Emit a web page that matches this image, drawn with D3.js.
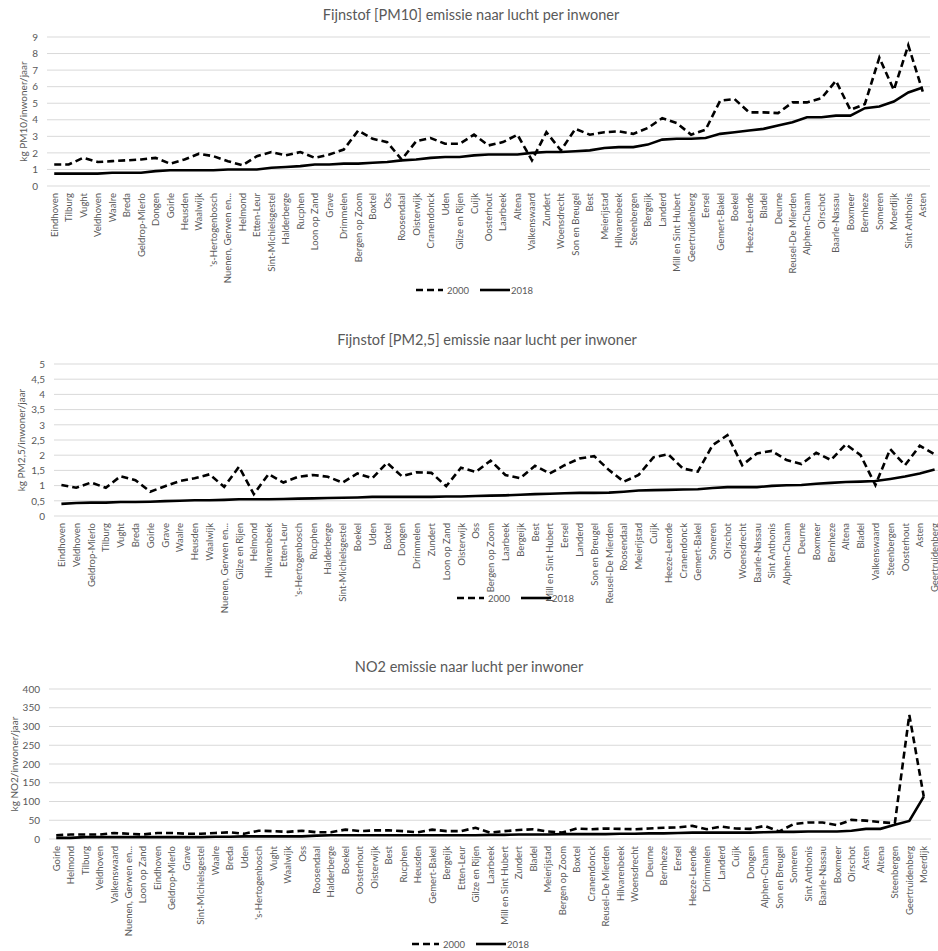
<!DOCTYPE html>
<html>
<head>
<meta charset="utf-8">
<script src="https://cdn.jsdelivr.net/npm/d3@7"></script>
<style>
  body { margin: 0; background: #fff; }
  svg { display: block; font-family: Lato, "Open Sans", sans-serif; }
</style>
</head>
<body>
<svg id="chart" width="938" height="951"></svg>
<script>
// PM10 per inwoner (kg/jaar)
var pm10Cats = ["Eindhoven","Tilburg","Vught","Veldhoven","Waalre","Breda","Geldrop-Mierlo","Dongen","Goirle","Heusden",
  "Waalwijk","'s-Hertogenbosch","Nuenen, Gerwen en...","Helmond","Etten-Leur","Sint-Michielsgestel","Halderberge","Rucphen","Loon op Zand","Grave",
  "Drimmelen","Bergen op Zoom","Boxtel","Oss","Roosendaal","Oisterwijk","Cranendonck","Uden","Gilze en Rijen","Cuijk",
  "Oosterhout","Laarbeek","Altena","Valkenswaard","Zundert","Woensdrecht","Son en Breugel","Best","Meierijstad","Hilvarenbeek",
  "Steenbergen","Bergeijk","Landerd","Mill en Sint Hubert","Geertruidenberg","Eersel","Gemert-Bakel","Boekel","Heeze-Leende","Bladel",
  "Deurne","Reusel-De Mierden","Alphen-Chaam","Oirschot","Baarle-Nassau","Boxmeer","Bernheze","Someren","Moerdijk","Sint Anthonis","Asten"];
var pm10_2000 = [1.3,1.3,1.7,1.45,1.5,1.55,1.6,1.7,1.35,1.6,
  1.95,1.8,1.5,1.25,1.8,2.05,1.85,2.05,1.7,1.9,
  2.2,3.35,2.85,2.65,1.6,2.7,2.9,2.55,2.55,3.1,
  2.45,2.65,3.1,1.55,3.25,2.15,3.45,3.1,3.25,3.3,
  3.15,3.5,4.1,3.8,3.1,3.4,5.15,5.25,4.45,4.45,
  4.4,5.05,5.05,5.3,6.35,4.6,4.95,7.75,5.8,8.5,5.7];
var pm10_2018 = [0.75,0.75,0.75,0.75,0.8,0.8,0.8,0.9,0.95,0.95,
  0.95,0.95,1.0,1.0,1.0,1.1,1.15,1.2,1.3,1.3,
  1.35,1.35,1.4,1.45,1.55,1.6,1.7,1.75,1.75,1.85,
  1.9,1.9,1.9,2.0,2.05,2.05,2.1,2.15,2.3,2.35,
  2.35,2.5,2.8,2.85,2.85,2.9,3.15,3.25,3.35,3.45,
  3.65,3.85,4.15,4.15,4.25,4.25,4.7,4.8,5.1,5.65,5.95];
var pm10Ticks = [0,1,2,3,4,5,6,7,8,9];

// PM2,5 per inwoner (kg/jaar)
var pm25Cats = ["Eindhoven","Veldhoven","Geldrop-Mierlo","Tilburg","Vught","Breda","Goirle","Grave","Waalre","Heusden",
  "Waalwijk","Nuenen, Gerwen en...","Gilze en Rijen","Helmond","Hilvarenbeek","Etten-Leur","'s-Hertogenbosch","Rucphen","Halderberge","Sint-Michielsgestel",
  "Boekel","Uden","Boxtel","Dongen","Drimmelen","Zundert","Loon op Zand","Oisterwijk","Oss","Bergen op Zoom",
  "Laarbeek","Bergeijk","Best","Mill en Sint Hubert","Eersel","Landerd","Son en Breugel","Reusel-De Mierden","Roosendaal","Meierijstad",
  "Cuijk","Heeze-Leende","Cranendonck","Gemert-Bakel","Someren","Oirschot","Woensdrecht","Baarle-Nassau","Sint Anthonis","Alphen-Chaam",
  "Deurne","Boxmeer","Bernheze","Altena","Bladel","Valkenswaard","Steenbergen","Oosterhout","Asten","Geertruidenberg"];
var pm25_2000 = [1.02,0.93,1.1,0.93,1.31,1.18,0.8,0.98,1.15,1.24,
  1.37,0.96,1.62,0.72,1.38,1.1,1.29,1.35,1.29,1.1,
  1.4,1.24,1.75,1.31,1.44,1.42,0.98,1.59,1.45,1.82,
  1.35,1.24,1.65,1.4,1.67,1.89,1.97,1.51,1.13,1.35,
  1.93,2.03,1.56,1.46,2.33,2.66,1.67,2.06,2.14,1.84,
  1.71,2.08,1.84,2.36,2.0,1.02,2.2,1.67,2.31,2.03];
var pm25_2018 = [0.4,0.43,0.44,0.44,0.46,0.46,0.47,0.49,0.5,0.52,
  0.52,0.53,0.55,0.55,0.55,0.56,0.57,0.58,0.59,0.6,
  0.61,0.63,0.63,0.63,0.63,0.63,0.64,0.64,0.66,0.67,
  0.68,0.7,0.72,0.73,0.75,0.76,0.76,0.77,0.8,0.84,
  0.85,0.86,0.87,0.88,0.92,0.95,0.95,0.95,0.99,1.01,
  1.02,1.06,1.09,1.12,1.13,1.15,1.22,1.3,1.4,1.53];
var pm25Ticks = [0,0.5,1,1.5,2,2.5,3,3.5,4,4.5,5];

// NO2 per inwoner (kg/jaar)
var no2Cats = ["Goirle","Helmond","Tilburg","Veldhoven","Valkenswaard","Nuenen, Gerwen en...","Loon op Zand","Eindhoven","Geldrop-Mierlo","Grave",
  "Sint-Michielsgestel","Waalre","Breda","Uden","'s-Hertogenbosch","Vught","Waalwijk","Oss","Roosendaal","Halderberge",
  "Boekel","Oosterhout","Oisterwijk","Best","Rucphen","Heusden","Gemert-Bakel","Bergeijk","Etten-Leur","Gilze en Rijen",
  "Laarbeek","Mill en Sint Hubert","Zundert","Bladel","Meierijstad","Bergen op Zoom","Boxtel","Cranendonck","Reusel-De Mierden","Hilvarenbeek",
  "Woensdrecht","Deurne","Bernheze","Eersel","Heeze-Leende","Drimmelen","Landerd","Cuijk","Dongen","Alphen-Chaam",
  "Son en Breugel","Someren","Sint Anthonis","Baarle-Nassau","Boxmeer","Oirschot","Asten","Altena","Steenbergen","Geertruidenberg","Moerdijk"];
var no2_2000 = [10,12,12,12,16,14,12,16,16,14,
  14,16,18,14,22,21,19,22,18,18,
  25,21,23,23,21,18,25,21,21,30,
  17,21,24,26,20,17,28,26,28,27,
  26,28,30,31,35,26,33,28,27,35,
  20,40,44,44,37,51,49,45,42,331,113];
var no2_2018 = [3,3,5,5,5,5,5,5,5,5,
  5,6,6,7,7,7,7,7,9,10,
  10,10,10,10,10,10,10,10,10,10,
  11,11,12,12,12,13,13,13,13,14,
  14,15,15,16,17,17,17,17,17,18,
  19,19,20,20,20,22,27,27,38,48,113];
var no2Ticks = [0,50,100,150,200,250,300,350,400];

var svg = d3.select("#chart");
var textColor = "#595959";
var fmt = function(v) { return String(v).replace(".", ","); };

// One Excel-style line chart panel
function drawPanel(p) {
  var g = svg.append("g");

  var x = d3.scaleBand().domain(p.cats).range([p.x0, p.x1]);
  var y = d3.scaleLinear().domain([0, p.ymax]).range([p.yBottom, p.yTop]);

  // gridlines
  g.selectAll("line.grid").data(p.ticks).enter().append("line")
    .attr("x1", p.x0).attr("x2", p.x1)
    .attr("y1", d => y(d)).attr("y2", d => y(d))
    .style("stroke", "#d9d9d9").style("stroke-width", 1);

  // y axis tick labels
  var yAxis = d3.axisLeft(y).tickValues(p.ticks).tickSize(0).tickPadding(0).tickFormat(fmt);
  var ya = g.append("g").attr("transform", "translate(" + p.tickX + ",0)").call(yAxis);
  ya.select(".domain").remove();
  ya.selectAll("text").style("fill", textColor).style("font-size", "10px").style("font-family", "Lato, sans-serif");

  // category labels (rotated)
  g.selectAll("text.cat").data(p.cats).enter().append("text")
    .attr("transform", d => "translate(" + (x(d) + x.bandwidth() / 2 + 3.5) + "," + (p.yBottom + 7) + ") rotate(-90)")
    .attr("text-anchor", "end")
    .style("font-size", "9.5px").style("fill", textColor)
    .text(d => d);

  // y axis title
  g.append("text")
    .attr("transform", "translate(" + p.titleYX + "," + ((p.yTop + p.yBottom) / 2) + ") rotate(-90)")
    .attr("text-anchor", "middle")
    .style("font-size", "10px").style("fill", textColor)
    .text(p.yTitle);

  // chart title
  g.append("text")
    .attr("x", p.titleX).attr("y", p.titleY)
    .attr("text-anchor", "middle")
    .style("font-size", "14.5px").style("fill", textColor)
    .text(p.title);

  var line = d3.line()
    .x((d, i) => x(p.cats[i]) + x.bandwidth() / 2)
    .y(d => y(d));

  g.append("path").datum(p.s2000).attr("d", line)
    .style("fill", "none").style("stroke", "#000").style("stroke-width", 2.6)
    .style("stroke-dasharray", "7,4");
  g.append("path").datum(p.s2018).attr("d", line)
    .style("fill", "none").style("stroke", "#000").style("stroke-width", 2.6);

  // legend
  var lg = g.append("g").attr("transform", "translate(" + p.legendX + "," + p.legendY + ")");
  lg.append("line").attr("x1", 0).attr("x2", 27).attr("y1", 0).attr("y2", 0)
    .style("stroke", "#000").style("stroke-width", 2.6).style("stroke-dasharray", "7,4");
  lg.append("text").attr("x", 31).attr("y", 3.5).style("font-size", "9.5px").style("fill", textColor).text("2000");
  lg.append("line").attr("x1", 64).attr("x2", 94).attr("y1", 0).attr("y2", 0)
    .style("stroke", "#000").style("stroke-width", 2.6);
  lg.append("text").attr("x", 95).attr("y", 3.5).style("font-size", "9.5px").style("fill", textColor).text("2018");
}

drawPanel({
  cats: pm10Cats, s2000: pm10_2000, s2018: pm10_2018, ticks: pm10Ticks, ymax: 9,
  x0: 47, x1: 930, yTop: 37, yBottom: 186, tickX: 38, titleYX: 27,
  title: "Fijnstof [PM10] emissie naar lucht per inwoner", titleX: 471, titleY: 20,
  yTitle: "kg PM10/inwoner/jaar", legendX: 416, legendY: 290
});

drawPanel({
  cats: pm25Cats, s2000: pm25_2000, s2018: pm25_2018, ticks: pm25Ticks, ymax: 5,
  x0: 54, x1: 942, yTop: 364, yBottom: 516, tickX: 45, titleYX: 25,
  title: "Fijnstof [PM2,5] emissie naar lucht per inwoner", titleX: 487, titleY: 345,
  yTitle: "kg PM2,5/inwoner/jaar", legendX: 457, legendY: 598
});

drawPanel({
  cats: no2Cats, s2000: no2_2000, s2018: no2_2018, ticks: no2Ticks, ymax: 400,
  x0: 49, x1: 931, yTop: 689, yBottom: 839, tickX: 40, titleYX: 18,
  title: "NO2 emissie naar lucht per inwoner", titleX: 469, titleY: 672,
  yTitle: "kg NO2/inwoner/jaar", legendX: 412, legendY: 944
});
</script>
</body>
</html>
